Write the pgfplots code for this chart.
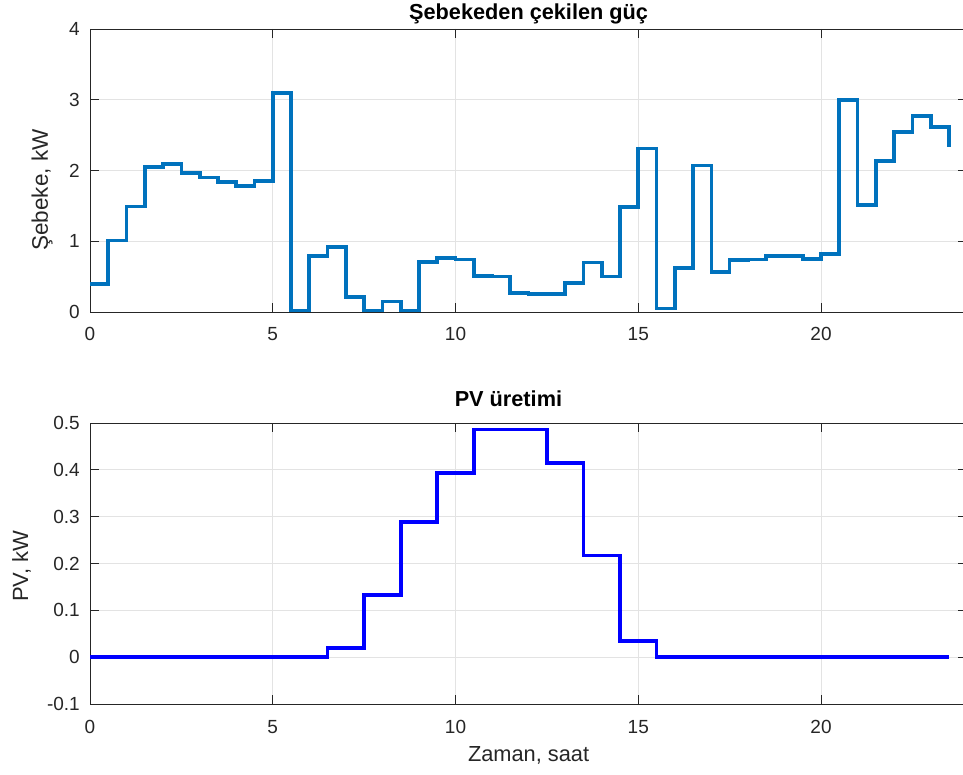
\documentclass[border=0pt]{standalone}
\usepackage{fontspec}
\setmainfont{Liberation Sans}
\usepackage{pgfplots}
\pgfplotsset{compat=1.18}
\definecolor{mblue}{HTML}{0072BD}
\definecolor{axcol}{HTML}{262626}
\definecolor{gridcol}{HTML}{E3E3E3}
\pgfplotsset{
  mystyle/.style={
    scale only axis, width=877.2pt, xmin=0, xmax=24,
    xtick={0,5,10,15,20},
    tick align=inside,
    major tick length=9pt,
    grid=major,
    major grid style={gridcol, line width=0.8pt},
    axis line style={axcol, line width=0.8pt},
    every tick/.style={axcol, line width=0.8pt},
    tick label style={font=\fontsize{19}{21}\selectfont, text=axcol},
    /pgf/number format/assume math mode=true,
    xticklabel style={anchor=base, yshift=-29pt, inner sep=0pt},
    yticklabel style={anchor=east, xshift=-10pt, inner sep=0pt},
    every axis x label/.style={at={(axis description cs:0.5,-0.2053)}, anchor=base, font=\fontsize{21.8}{24}\selectfont, text=axcol},
    every axis title/.style={anchor=base, font=\bfseries\fontsize{21.7}{24}\selectfont, text=black},
  }
}
\begin{document}
\begin{tikzpicture}
\begin{axis}[mystyle,
  at={(90pt,462pt)}, anchor=south west, height=283pt,
  ymin=0, ymax=4, ytick={0,1,2,3,4},
  title={Şebekeden çekilen güç},
  title style={at={(axis description cs:0.5,1.0343)}},
  ylabel={Şebeke, kW},
  every axis y label/.style={at={(axis description cs:-0.0547,0.431)}, rotate=90, anchor=center, font=\fontsize{22.5}{24}\selectfont, text=axcol},
]
\addplot[const plot, mblue, line width=3.7pt] coordinates {
(0,0.40) (0.5,1.01) (1,1.49) (1.5,2.05) (2,2.09) (2.5,1.96) (3,1.90) (3.5,1.84)
(4,1.78) (4.5,1.85) (5,3.10) (5.5,0.02) (6,0.79) (6.5,0.92) (7,0.21) (7.5,0.02)
(8,0.15) (8.5,0.02) (9,0.71) (9.5,0.76) (10,0.74) (10.5,0.51) (11,0.50) (11.5,0.27)
(12,0.25) (12.5,0.25) (13,0.41) (13.5,0.70) (14,0.50) (14.5,1.48) (15,2.31) (15.5,0.05)
(16,0.62) (16.5,2.07) (17,0.57) (17.5,0.73) (18,0.74) (18.5,0.79) (19,0.79) (19.5,0.75)
(20,0.82) (20.5,3.00) (21,1.51) (21.5,2.13) (22,2.54) (22.5,2.77) (23,2.61) (23.5,2.33)
};
\end{axis}
\begin{axis}[mystyle,
  at={(90pt,70pt)}, anchor=south west, height=281pt,
  ymin=-0.1, ymax=0.5, ytick={-0.1,0,0.1,0.2,0.3,0.4,0.5},
  title={PV üretimi},
  title style={at={(axis description cs:0.477,1.057)}},
  ylabel={PV, kW},
  every axis y label/.style={at={(axis description cs:-0.0779,0.491)}, rotate=90, anchor=center, font=\fontsize{22}{24}\selectfont, text=axcol},
  xlabel={Zaman, saat},
]
\addplot[const plot, blue, line width=3.7pt] coordinates {
(0,0) (0.5,0) (1,0) (1.5,0) (2,0) (2.5,0) (3,0) (3.5,0)
(4,0) (4.5,0) (5,0) (5.5,0) (6,0) (6.5,0.02) (7,0.02) (7.5,0.133)
(8,0.133) (8.5,0.288) (9,0.288) (9.5,0.393) (10,0.393) (10.5,0.486) (11,0.486) (11.5,0.486)
(12,0.486) (12.5,0.414) (13,0.414) (13.5,0.217) (14,0.217) (14.5,0.034) (15,0.034) (15.5,0)
(16,0) (16.5,0) (17,0) (17.5,0) (18,0) (18.5,0) (19,0) (19.5,0)
(20,0) (20.5,0) (21,0) (21.5,0) (22,0) (22.5,0) (23,0) (23.5,0)
};
\end{axis}
\pgfresetboundingbox
\useasboundingbox (0,0) rectangle (963pt,774pt);
\end{tikzpicture}
\end{document}
